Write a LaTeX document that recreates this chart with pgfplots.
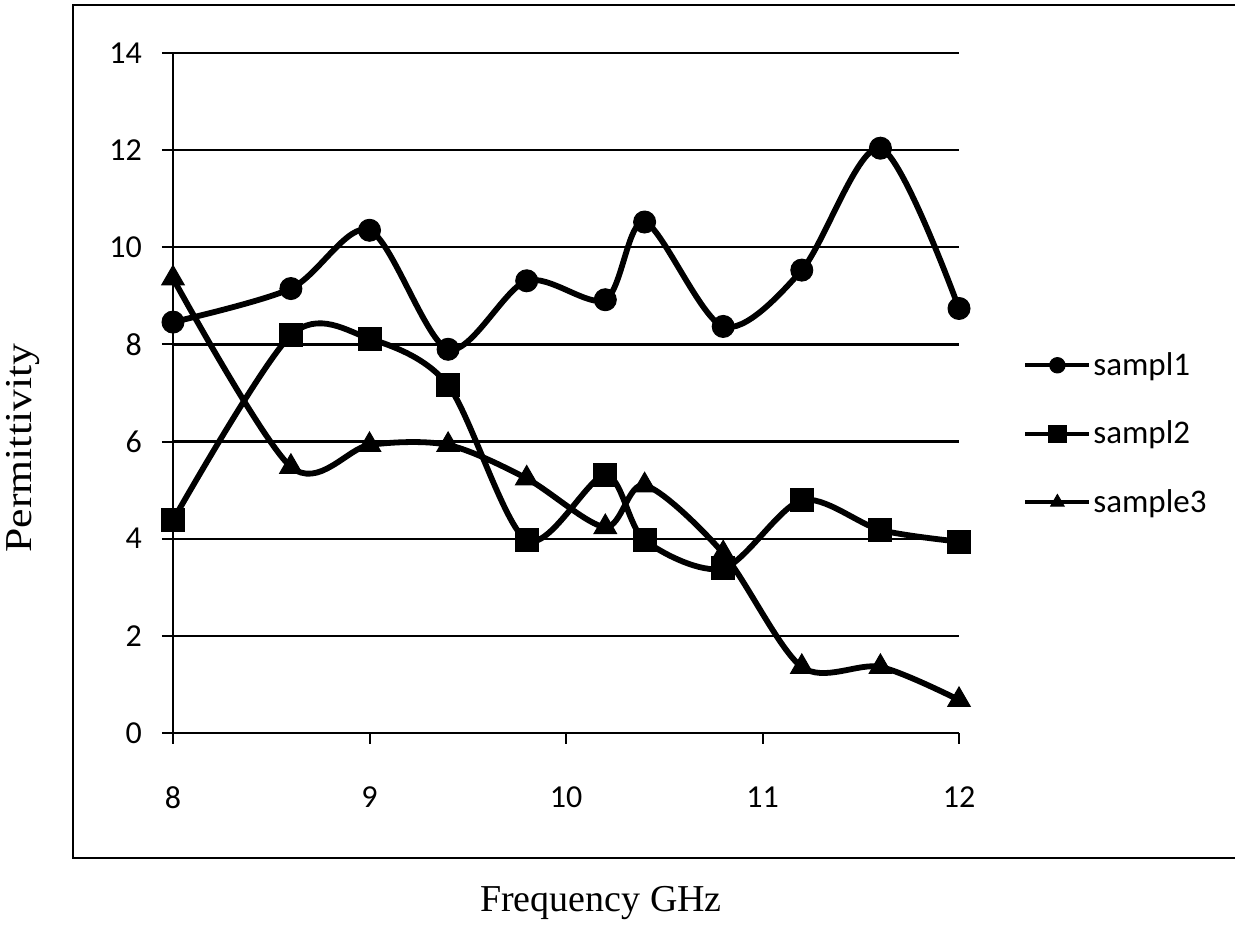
\documentclass[border=0pt]{standalone}
\usepackage{pgfplots}
\pgfplotsset{compat=1.18}
\usepackage{fontspec}
\setmainfont{Liberation Serif}
\newfontfamily\carlito{Carlito}
\begin{document}
\begin{tikzpicture}
\useasboundingbox (-86.5pt,-98pt) rectangle (531pt,366.5pt);
\draw[line width=1pt] (-50pt,-62.5pt) rectangle (545pt,364pt);
\begin{axis}[
  scale only axis,
  width=393pt, height=340pt,
  xmin=8, xmax=12, ymin=0, ymax=14,
  xtick={8,9,10,11,12}, ytick={0,2,...,14},
  axis x line=bottom, axis y line=left,
  axis line style={-, line width=1pt},
  tick align=outside, major tick length=5.5pt,
  tick style={black, line width=1pt},
  ymajorgrids, major grid style={black, line width=1.2pt},
  /pgf/number format/assume math mode=true,
  ticklabel style={font=\carlito\fontsize{16}{19}\selectfont},
  xticklabel style={yshift=-18pt},
  yticklabel style={xshift=-6.5pt},
  xlabel={Frequency GHz},
  xlabel style={font=\fontsize{19}{22}\selectfont, at={(axis description cs:0.5445,0)}, anchor=base, yshift=-89.5pt},
  ylabel={\scalebox{1.15}[1]{Permittivity}},
  ylabel style={font=\fontsize{19}{22}\selectfont, at={(axis description cs:-0.1908,0.419)}, anchor=center},
  legend style={at={(axis description cs:1.0814,0.44)}, anchor=west, draw=none, fill=none,
    inner sep=0pt, font=\carlito\fontsize{16.5}{19}\selectfont, row sep=19.3pt,
    nodes={inner sep=1pt}},
  legend cell align=left,
  legend image code/.code={\draw[mark repeat=2,mark phase=2,#1] plot coordinates {(0pt,0pt)(16pt,0pt)(32pt,0pt)};},
  every axis plot/.append style={black, line width=2.9pt, smooth},
  clip=false,
]
\addplot[mark=*, mark size=5.5pt, mark options={solid, fill=black, line width=0.5pt},
  legend image post style={line width=2pt, mark options={solid, fill=black, line width=0.5pt, scale=0.7}}]
  coordinates {(8,8.46)(8.6,9.15)(9,10.35)(9.4,7.9)(9.8,9.31)(10.2,8.92)(10.4,10.52)(10.8,8.37)(11.2,9.53)(11.6,12.04)(12,8.74)};
\addlegendentry{sampl1}
\addplot[mark=square*, mark size=5.75pt, mark options={solid, fill=black, line width=0.5pt},
  legend image post style={line width=2pt, mark options={solid, fill=black, line width=0.5pt, scale=0.75}}]
  coordinates {(8,4.38)(8.6,8.19)(9,8.12)(9.4,7.16)(9.8,3.97)(10.2,5.31)(10.4,3.97)(10.8,3.39)(11.2,4.79)(11.6,4.18)(12,3.94)};
\addlegendentry{sampl2}
\addplot[mark=triangle*, mark size=6.5pt, mark options={solid, fill=black, line width=0.5pt},
  legend image post style={line width=2pt, mark options={solid, fill=black, line width=0.5pt, scale=0.6}}]
  coordinates {(8,9.36)(8.6,5.48)(9,5.93)(9.4,5.93)(9.8,5.24)(10.2,4.24)(10.4,5.10)(10.8,3.70)(11.2,1.36)(11.6,1.36)(12,0.68)};
\addlegendentry{sample3}
\end{axis}
\end{tikzpicture}
\end{document}
